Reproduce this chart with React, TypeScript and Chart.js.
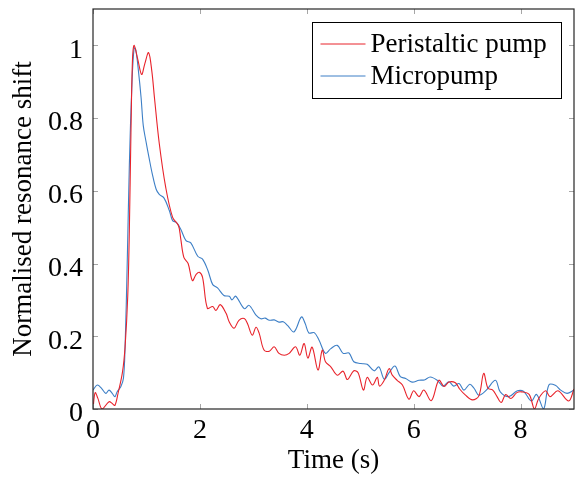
import React, { useEffect, useRef } from "react";
import { Chart, registerables } from "chart.js";

Chart.register(...registerables);

const peristalticTime = [
  0, 0.04, 0.09, 0.17, 0.3, 0.36, 0.41, 0.47, 0.55, 0.6, 0.65, 0.68, 0.71, 0.74, 0.77,
  0.84, 0.91, 0.97, 1.04, 1.1, 1.15, 1.24, 1.36, 1.49, 1.6, 1.64, 1.7, 1.78, 1.86, 1.93,
  1.99, 2.05, 2.14, 2.24, 2.3, 2.38, 2.49, 2.55, 2.64, 2.73, 2.83, 2.89, 2.98, 3.05, 3.11,
  3.2, 3.3, 3.39, 3.48, 3.58, 3.67, 3.79, 3.87, 3.95, 4.02, 4.1, 4.21, 4.29, 4.35, 4.45,
  4.57, 4.68, 4.76, 4.88, 4.96, 5.06, 5.13, 5.23, 5.32, 5.36, 5.45, 5.54, 5.6, 5.69, 5.79,
  5.91, 6.0, 6.1, 6.19, 6.33, 6.47, 6.57, 6.66, 6.78, 6.86, 6.97, 7.1, 7.22, 7.31, 7.39,
  7.48, 7.56, 7.64, 7.72, 7.82, 7.93, 8.02, 8.16, 8.26, 8.34, 8.47, 8.55, 8.7, 8.9, 9.0,
];
const peristalticValue = [
  0.0, 0.045, 0.03, 0.0, 0.02, 0.015, 0.01, 0.044, 0.1, 0.17, 0.31, 0.49, 0.76, 0.965, 1.0,
  0.96, 0.92, 0.95, 0.98, 0.93, 0.856, 0.73, 0.61, 0.527, 0.504, 0.47, 0.417, 0.4, 0.353, 0.37,
  0.376, 0.362, 0.277, 0.282, 0.271, 0.287, 0.263, 0.239, 0.222, 0.244, 0.249, 0.235, 0.203, 0.225, 0.208,
  0.162, 0.159, 0.171, 0.153, 0.148, 0.153, 0.171, 0.148, 0.18, 0.14, 0.17, 0.107, 0.162, 0.13, 0.116,
  0.093, 0.104, 0.081, 0.105, 0.1, 0.052, 0.087, 0.066, 0.087, 0.063, 0.079, 0.111, 0.093, 0.079, 0.066,
  0.027, 0.05, 0.034, 0.052, 0.023, 0.079, 0.062, 0.074, 0.072, 0.055, 0.038, 0.025, 0.036, 0.098, 0.057,
  0.052, 0.034, 0.018, 0.04, 0.029, 0.045, 0.047, 0.04, 0.0, 0.029, 0.05, 0.034, 0.05, 0.022, 0.055,
];

const micropumpTime = [
  0, 0.08, 0.16, 0.24, 0.3, 0.36, 0.41, 0.45, 0.52, 0.57, 0.6, 0.64, 0.68, 0.73, 0.77,
  0.8, 0.85, 0.9, 0.94, 0.99, 1.05, 1.11, 1.18, 1.24, 1.33, 1.43, 1.49, 1.56, 1.64, 1.74,
  1.83, 1.96, 2.05, 2.15, 2.24, 2.33, 2.45, 2.55, 2.6, 2.67, 2.83, 2.92, 3.05, 3.14, 3.22,
  3.3, 3.39, 3.48, 3.56, 3.64, 3.76, 3.9, 3.97, 4.04, 4.14, 4.23, 4.35, 4.45, 4.57, 4.68,
  4.79, 4.88, 5.01, 5.13, 5.26, 5.35, 5.45, 5.54, 5.65, 5.75, 5.85, 5.97, 6.1, 6.2, 6.31,
  6.44, 6.55, 6.66, 6.75, 6.85, 6.94, 7.05, 7.13, 7.22, 7.36, 7.53, 7.62, 7.78, 7.94, 8.06,
  8.2, 8.3, 8.43, 8.53, 8.65, 8.75, 8.87, 9.0,
];
const micropumpValue = [
  0.052, 0.066, 0.057, 0.043, 0.052, 0.043, 0.034, 0.047, 0.061, 0.085, 0.17, 0.4, 0.67, 0.9, 0.993,
  0.988, 0.93, 0.856, 0.78, 0.737, 0.69, 0.646, 0.605, 0.59, 0.58, 0.545, 0.518, 0.513, 0.495, 0.463,
  0.457, 0.42, 0.412, 0.381, 0.342, 0.333, 0.312, 0.31, 0.3, 0.31, 0.276, 0.285, 0.258, 0.248, 0.25,
  0.244, 0.245, 0.239, 0.24, 0.23, 0.212, 0.253, 0.235, 0.209, 0.21, 0.189, 0.153, 0.166, 0.175, 0.153,
  0.154, 0.13, 0.125, 0.123, 0.105, 0.116, 0.082, 0.1, 0.118, 0.089, 0.084, 0.074, 0.079, 0.08, 0.088,
  0.079, 0.063, 0.075, 0.063, 0.07, 0.052, 0.068, 0.057, 0.038, 0.052, 0.079, 0.047, 0.034, 0.05, 0.048,
  0.022, 0.04, 0.0, 0.066, 0.065, 0.052, 0.043, 0.052,
];

const seriesLabels = ["Peristaltic pump", "Micropump"];
const seriesColors = ["#e8232b", "#3d7fc6"];
const xTicks = [0, 2, 4, 6, 8];
const yTicks = [0, 0.2, 0.4, 0.6, 0.8, 1];
const xTitle = "Time (s)";
const yTitle = "Normalised resonance shift";

const FONT = "'Liberation Serif', 'DejaVu Serif', serif";

const framePlugin = {
  id: "frameTicks",
  afterDatasetsDraw(chart: any) {
    const { ctx, chartArea, scales } = chart;
    const { left, right, top, bottom } = chartArea;
    const x = scales.x;
    const y = scales.y;
    ctx.save();
    ctx.strokeStyle = "#a6a6a6";
    ctx.lineWidth = 1;
    const len = 5;
    ctx.beginPath();
    xTicks.forEach((v) => {
      const px = Math.round(x.getPixelForValue(v)) + 0.5;
      ctx.moveTo(px, bottom);
      ctx.lineTo(px, bottom - len);
      ctx.moveTo(px, top);
      ctx.lineTo(px, top + len);
    });
    yTicks.forEach((v) => {
      const py = Math.round(y.getPixelForValue(v)) + 0.5;
      ctx.moveTo(left, py);
      ctx.lineTo(left + len, py);
      ctx.moveTo(right, py);
      ctx.lineTo(right - len, py);
    });
    ctx.stroke();
    ctx.strokeStyle = "#262626";
    ctx.lineWidth = 1.2;
    ctx.strokeRect(left, top, right - left, bottom - top);
    ctx.restore();
  },
  afterDraw(chart: any) {
    const { ctx } = chart;
    const bx = 312.5;
    const by = 22.5;
    const bw = 249;
    const bh = 76;
    ctx.save();
    ctx.fillStyle = "#ffffff";
    ctx.fillRect(bx, by, bw, bh);
    ctx.strokeStyle = "#000000";
    ctx.lineWidth = 1;
    ctx.strokeRect(bx, by, bw, bh);
    ctx.font = `27px ${FONT}`;
    ctx.textBaseline = "middle";
    ctx.textAlign = "left";
    chart.data.datasets.forEach((ds: any, i: number) => {
      const yy = by + 21 + i * 32;
      ctx.strokeStyle = ds.borderColor;
      ctx.lineWidth = 1;
      ctx.beginPath();
      ctx.moveTo(bx + 8, yy + 0.5);
      ctx.lineTo(bx + 53, yy + 0.5);
      ctx.stroke();
      ctx.fillStyle = "#000";
      ctx.fillText(ds.label, bx + 58, yy + 1);
    });
    ctx.restore();
  },
};

export default function App() {
  const canvasRef = useRef<HTMLCanvasElement | null>(null);

  useEffect(() => {
    document.body.style.margin = "0";
    const canvas = canvasRef.current;
    if (!canvas) return;
    const chart = new Chart(canvas, {
      type: "line",
      data: {
        datasets: [
          {
            label: seriesLabels[0],
            data: peristalticTime.map((t, i) => ({ x: t, y: peristalticValue[i] })),
            borderColor: seriesColors[0],
            backgroundColor: seriesColors[0],
            borderWidth: 1.1,
            pointRadius: 0,
            tension: 0.35,
          },
          {
            label: seriesLabels[1],
            data: micropumpTime.map((t, i) => ({ x: t, y: micropumpValue[i] })),
            borderColor: seriesColors[1],
            backgroundColor: seriesColors[1],
            borderWidth: 1.1,
            pointRadius: 0,
            tension: 0.35,
          },
        ],
      },
      options: {
        responsive: false,
        animation: false,
        devicePixelRatio: 1,
        layout: { padding: { top: 9, right: 1, left: 0, bottom: 0 } },
        plugins: {
          legend: { display: false },
          tooltip: { enabled: false },
        },
        scales: {
          x: {
            type: "linear",
            min: 0,
            max: 9,
            grid: { display: false, drawTicks: false },
            border: { display: false },
            afterBuildTicks: (scale: any) => {
              scale.ticks = xTicks.map((v) => ({ value: v }));
            },
            afterFit: (scale: any) => {
              scale.height = 68;
              scale.paddingLeft = 0;
              scale.paddingRight = 0;
            },
            ticks: {
              color: "#000",
              padding: 5,
              maxRotation: 0,
              font: { family: FONT, size: 28 },
              callback: (v: any) => String(v),
            },
            title: {
              display: true,
              text: xTitle,
              color: "#000",
              font: { family: FONT, size: 27 },
              padding: { top: 0, bottom: 0 },
            },
          },
          y: {
            type: "linear",
            min: 0,
            max: 1.1,
            grid: { display: false, drawTicks: false },
            border: { display: false },
            afterBuildTicks: (scale: any) => {
              scale.ticks = yTicks.map((v) => ({ value: v }));
            },
            afterFit: (scale: any) => {
              scale.width = 93;
              scale.paddingTop = 0;
              scale.paddingBottom = 0;
            },
            ticks: {
              color: "#000",
              padding: 10,
              labelOffset: 5,
              font: { family: FONT, size: 28 },
              callback: (v: any) => String(Number(Number(v).toFixed(1))),
            },
            title: {
              display: true,
              text: yTitle,
              color: "#000",
              font: { family: FONT, size: 27 },
              padding: { top: 8, bottom: 0 },
            },
          },
        },
      },
      plugins: [framePlugin],
    });
    return () => chart.destroy();
  }, []);

  return (
    <div style={{ width: 575, height: 477 }}>
      <canvas ref={canvasRef} width={575} height={477} />
    </div>
  );
}
